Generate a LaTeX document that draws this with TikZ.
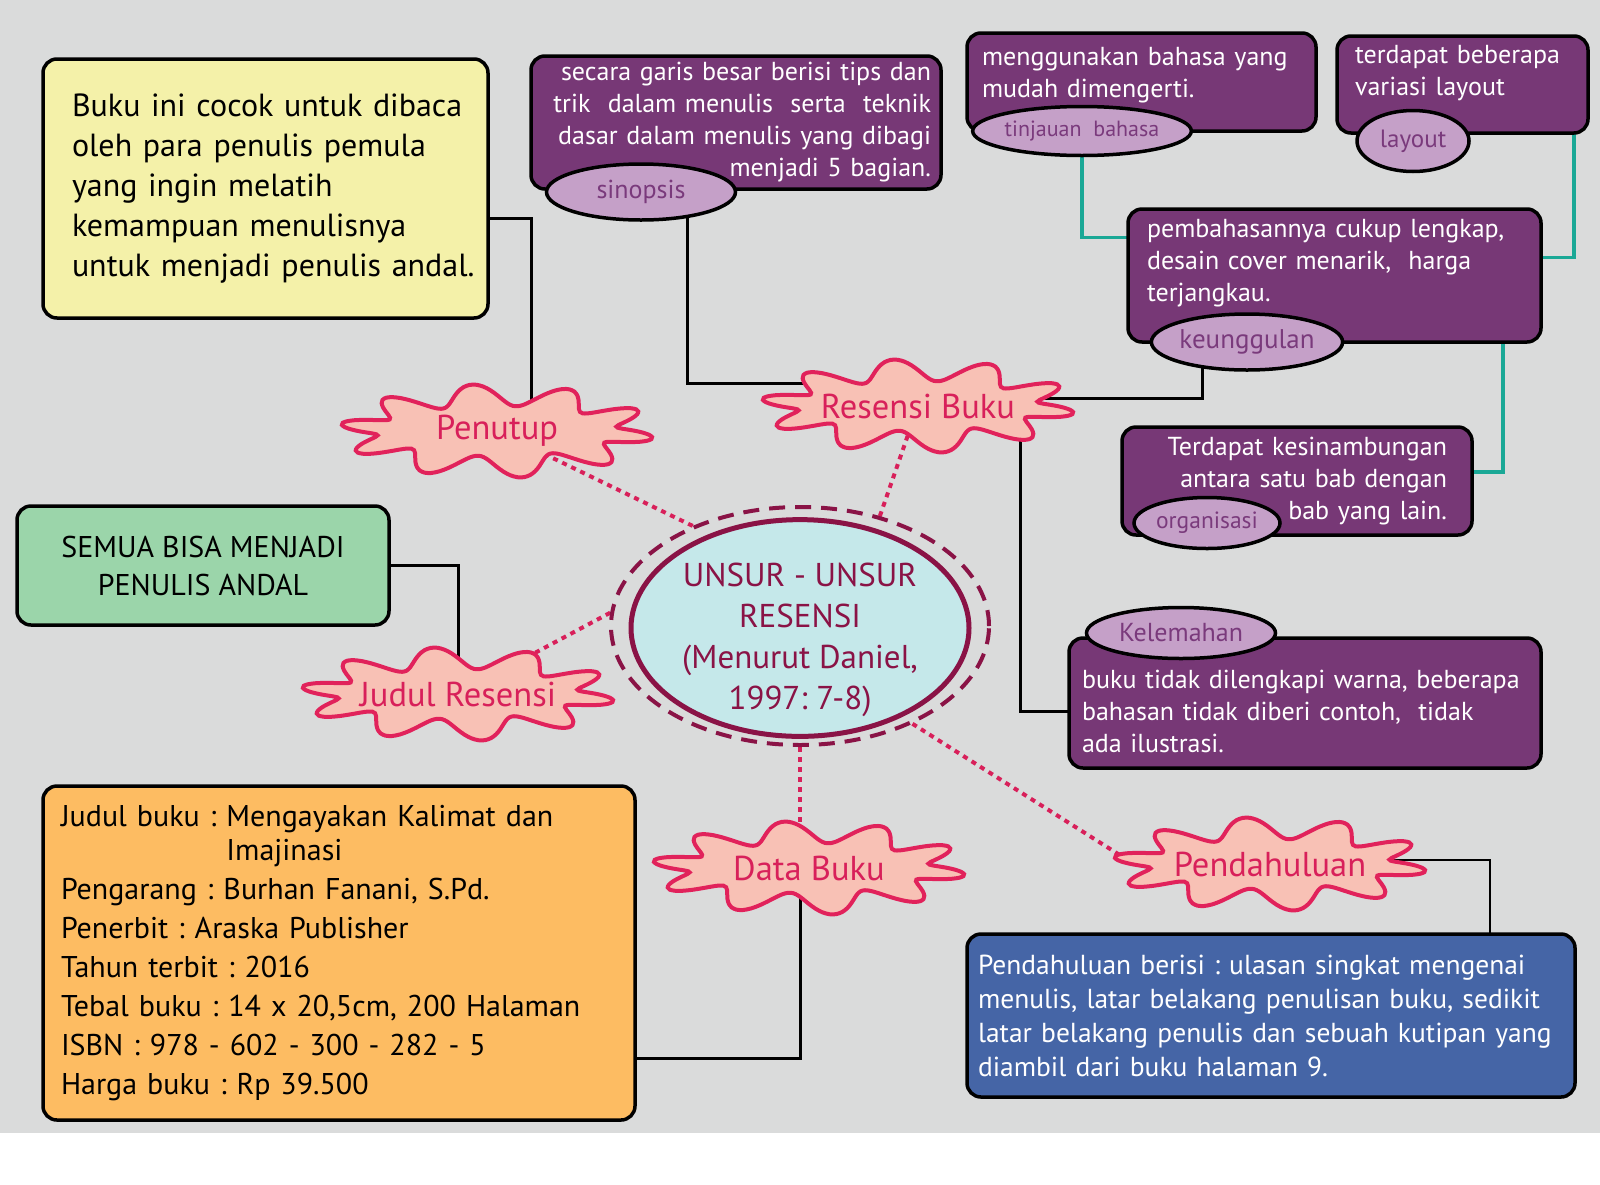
\documentclass[tikz,border=0pt]{standalone}
\usepackage{fontspec}
\setmainfont{PT Sans}
\usetikzlibrary{shapes.geometric}
\frenchspacing

\pgfdeclarelayer{bg}
\pgfdeclarelayer{links}
\pgfdeclarelayer{blobs}
\pgfsetlayers{bg,links,blobs,main}

\definecolor{bggray}{HTML}{DADBDB}
\definecolor{boxpurple}{HTML}{773876}
\definecolor{tagpurple}{HTML}{C5A0C8}
\definecolor{tagtext}{HTML}{7A3A7C}
\definecolor{noteyellow}{HTML}{F4F1A9}
\definecolor{notegreen}{HTML}{9BD5AA}
\definecolor{noteorange}{HTML}{FDBC62}
\definecolor{noteblue}{HTML}{4565A6}
\definecolor{corefill}{HTML}{C5E8EA}
\definecolor{coreline}{HTML}{8A1346}
\definecolor{blobfill}{HTML}{F8C1B5}
\definecolor{blobedge}{HTML}{E1225B}
\definecolor{blobtext}{HTML}{D8205A}
\definecolor{linkteal}{HTML}{1AA896}

\newcommand{\fs}[2]{\fontsize{#1}{#2}\selectfont}
% invisible struts to move text up (depth) or down (height)
\newcommand{\lowstrut}[1]{\rule[-#1pt]{0pt}{#1pt}}
\newcommand{\highstrut}[1]{\rule{0pt}{#1pt}}

% wavy outline round a cloud node
\newcommand{\blob}[1]{%
  \begin{pgfonlayer}{blobs}
    \begin{scope}[shift={(#1.center)}]
      \draw[blobline] plot[domain=0:357.5, samples=144, smooth cycle]
        ({(139+18*sin(10*\x))*cos(\x)}, {(36+11*sin(10*\x))*sin(\x)});
    \end{scope}
  \end{pgfonlayer}}

\begin{document}
\begin{tikzpicture}[x=1pt, y=-1pt]
  %
  \tikzstyle{card} = [rectangle, rounded corners=14, draw=black, line width=3.5, inner sep=0]
  \tikzstyle{purplecard} = [card, fill=boxpurple, text=white, font=\fs{26}{32}]
  \tikzstyle{tag} = [ellipse, draw=black, line width=3.5, fill=tagpurple, text=tagtext, inner sep=0, font=\fs{26}{28}]
  \tikzstyle{cloudtag} = [ellipse, minimum width=200, minimum height=50, inner sep=0, text=blobtext, font=\fs{34.5}{38}]
  \tikzstyle{blobline} = [draw=blobedge, line width=4, fill=blobfill]
  \tikzstyle{dotlink} = [blobtext, line width=4, dash pattern=on 5 off 5]
  \tikzstyle{link} = [black, line width=3]
  \tikzstyle{teallink} = [linkteal, line width=3.5]

  \useasboundingbox (0,0) rectangle (1600,1184);
  \begin{pgfonlayer}{bg}
    \fill[white] (0,0) rectangle (1600,1184);
    \fill[bggray] (0,0) rectangle (1600,1133);
  \end{pgfonlayer}

  % centre
  \node[ellipse, minimum width=378, minimum height=238, draw=coreline, line width=4,
        dash pattern=on 16 off 10] (ring) at (800,626) {};
  \node[ellipse, minimum width=338, minimum height=199, draw=coreline, line width=5,
        fill=corefill, text=coreline, align=center, inner xsep=0, inner ysep=-12, font=\fs{33}{41}] (core) at (800,628)
    {\highstrut{47}UNSUR - UNSUR\\RESENSI\\(Menurut Daniel,\\1997: 7-8)};

  % clouds
  \node[cloudtag] (penutup) at (497,431) {Penutup};
  \node[cloudtag] (resensi) at (918,406) {Resensi Buku};
  \node[cloudtag] (judul) at (458,694) {Judul Resensi};
  \node[cloudtag] (databuku) at (809,868) {Data Buku};
  \node[cloudtag] (pendahuluan) at (1270,864) {Pendahuluan};
  \blob{penutup}
  \blob{resensi}
  \blob{judul}
  \blob{databuku}
  \blob{pendahuluan}

  % notes
  \node[card, fill=noteyellow, minimum width=445, minimum height=259, text width=431, align=left, font=\fs{32}{40}]
    (yellow) at (265.5,188.5)
    {\leftskip=22pt \hyphenpenalty=10000 Buku ini cocok untuk dibaca\\oleh para penulis pemula\\yang ingin melatih\\kemampuan menulisnya\\untuk menjadi penulis andal.\par};
  \node[card, fill=notegreen, minimum width=372, minimum height=119, align=center, font=\fs{30}{38}]
    (green) at (203,565.5) {SEMUA BISA MENJADI\\PENULIS ANDAL};
  \node[card, fill=noteorange, minimum width=592, minimum height=334, text width=556, align=left, font=\fs{30}{34}]
    (orange) at (339,953)
    {Judul buku : Mengayakan Kalimat dan\\\phantom{Judul buku : }Imajinasi\\[5pt]
     Pengarang : Burhan Fanani, S.Pd.\\[5pt]Penerbit : Araska Publisher\\[5pt]
     Tahun terbit : 2016\\[5pt]Tebal buku : 14 x 20,5cm, 200 Halaman\\[5pt]
     ISBN : 978 - 602 - 300 - 282 - 5\\[5pt]Harga buku : Rp 39.500};
  \node[card, fill=noteblue, text=white, minimum width=608, minimum height=163, text width=586, align=left, font=\fs{27.5}{34}]
    (blue) at (1271,1015.5)
    {Pendahuluan berisi : ulasan singkat mengenai\\menulis, latar belakang penulisan buku, sedikit\\
     latar belakang penulis dan sebuah kutipan yang\\diambil dari buku halaman 9.};

  % purple notes with their tags
  \node[purplecard, minimum width=410, minimum height=133, text width=390, align=right]
    (sinopsisBox) at (736,122.5)
    {secara garis besar berisi tips dan\\trik\ \ dalam menulis\ \ serta\ \ teknik\\dasar dalam menulis yang dibagi\\menjadi 5 bagian.};
  \node[tag, minimum width=189, minimum height=56] (sinopsisTag) at (641,192) {sinopsis};

  \node[purplecard, minimum width=349, minimum height=98, text width=319, align=left]
    (bahasaBox) at (1141.5,82) {menggunakan bahasa yang\\mudah dimengerti.\lowstrut{20}};
  \node[tag, minimum width=194, minimum height=49, font=\fs{22}{24}] (bahasaTag) at (1082,131) {tinjauan\ \ bahasa};

  \node[purplecard, minimum width=251, minimum height=97, text width=215, align=left]
    (layoutBox) at (1462.5,84.5) {terdapat beberapa\\variasi layout\lowstrut{28}};
  \node[tag, minimum width=112, minimum height=61, font=\fs{25}{27}] (layoutTag) at (1413,141) {layout};

  \node[purplecard, minimum width=413, minimum height=133, text width=375, align=left]
    (keungBox) at (1334.5,275.5) {pembahasannya cukup lengkap,\\desain cover menarik,\ \ harga\\terjangkau.\lowstrut{30}};
  \node[tag, minimum width=189, minimum height=56, font=\fs{27}{29}] (keungTag) at (1247,342) {keunggulan};

  \node[purplecard, minimum width=350, minimum height=108, text width=300, align=right]
    (orgBox) at (1297,481) {Terdapat kesinambungan\\antara satu bab dengan\\bab yang lain.};
  \node[tag, minimum width=146, minimum height=51, font=\fs{23.5}{25}] (orgTag) at (1207,523) {organisasi};

  \node[purplecard, minimum width=472, minimum height=130, text width=446, align=left]
    (lemahBox) at (1305,703) {\highstrut{35}buku tidak dilengkapi warna, beberapa\\bahasan tidak diberi contoh,\ \ tidak\\ada ilustrasi.};
  \node[tag, minimum width=189, minimum height=51] (lemahTag) at (1181,633) {Kelemahan};

  % connectors
  \begin{pgfonlayer}{links}
    \draw[dotlink] (ring.137) -- (penutup);
    \draw[dotlink] (ring.54) -- (resensi);
    \draw[dotlink] (ring.176) -- (judul);
    \draw[dotlink] (ring.south) -- (ring.south |- databuku.north);
    \draw[dotlink] (ring.319) -- (pendahuluan.west);

    \draw[link] ([yshift=-30]yellow.east) -| ([xshift=34]penutup.center);
    \draw[link] (green.east) -| (judul);
    \draw[link] ([xshift=46]sinopsisTag.center) |- ([yshift=23]resensi.center);
    \draw[link] ([yshift=8]resensi.center) -| ([xshift=-45]keungTag.center);
    \draw[link] ([xshift=102]resensi.center) |- ([yshift=-8]lemahBox.center);
    \draw[link] ([xshift=-9]databuku.center) |- ([yshift=-105]orange.center);
    \draw[link, line width=2] ([yshift=4]pendahuluan.center) -| ([xshift=219]blue.center);

    \draw[teallink] (bahasaTag) |- ([yshift=38]keungBox.center);
    \draw[teallink] ([xshift=111.5]layoutBox.center) |- ([yshift=18]keungBox.center);
    \draw[teallink] ([xshift=168.5]keungBox.center) |- ([yshift=9]orgBox.center);
  \end{pgfonlayer}
\end{tikzpicture}
\end{document}
